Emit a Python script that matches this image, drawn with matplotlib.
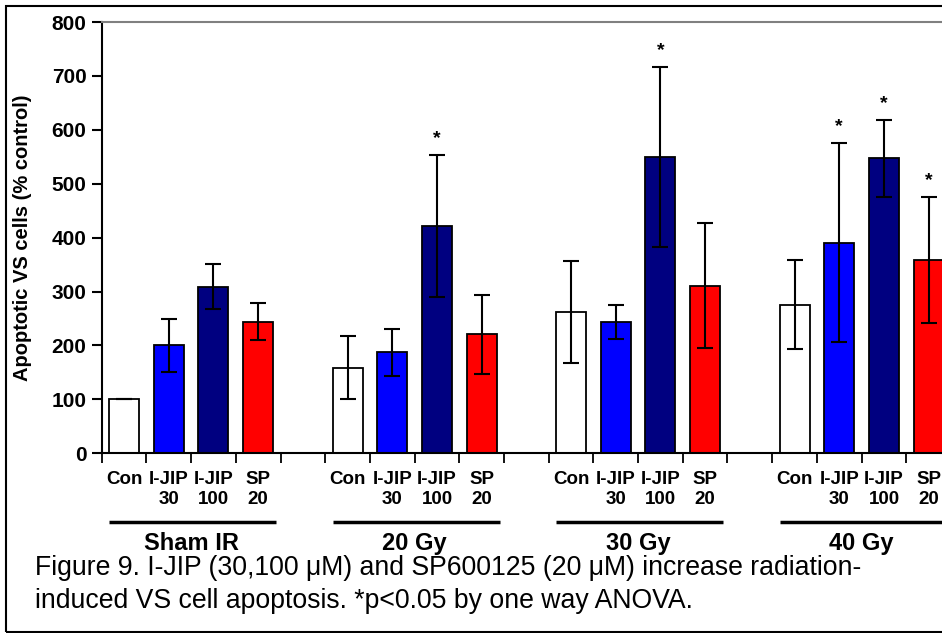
import matplotlib
matplotlib.use("Agg")
import matplotlib.pyplot as plt
import matplotlib.transforms as mtransforms
from matplotlib.patches import Rectangle

plt.rcParams['font.family'] = ['Liberation Sans', 'DejaVu Sans']

groups = ["Sham IR", "20 Gy", "30 Gy", "40 Gy"]
treatments = ["Con", "I-JIP\n30", "I-JIP\n100", "SP\n20"]
colors = ["#FFFFFF", "#0000FF", "#000080", "#FF0000"]

sham_means = [100, 200, 309, 244]
sham_errs = [0, 50, 42, 34]
gy20_means = [159, 187, 421, 221]
gy20_errs = [59, 44, 132, 73]
gy30_means = [262, 244, 550, 311]
gy30_errs = [94, 32, 167, 116]
gy40_means = [276, 391, 547, 358]
gy40_errs = [82, 184, 71, 117]
signif = [[False, False, False, False],
          [False, False, True, False],
          [False, False, True, False],
          [False, True, True, True]]

means = [sham_means, gy20_means, gy30_means, gy40_means]
errs = [sham_errs, gy20_errs, gy30_errs, gy40_errs]

W, H = 942, 633
fig = plt.figure(figsize=(W / 100, H / 100), dpi=100)

slot = 44.7
ax_left = 101.7
ax_bottom = 453.3
ax_top = 22.0
ax = fig.add_axes([ax_left / W, (H - ax_bottom) / H, 20 * slot / W, (ax_bottom - ax_top) / H])

positions = []
labels = []
for g in range(4):
    for j in range(4):
        x = 5 * g + j
        positions.append(x)
        labels.append(treatments[j])
        ax.bar(x, means[g][j], width=0.67, color=colors[j], edgecolor='black',
               linewidth=1.3, zorder=2)
        ax.errorbar(x, means[g][j], yerr=errs[g][j], fmt='none', ecolor='black',
                    elinewidth=1.5, capsize=5.5, capthick=1.5, zorder=3)
        if signif[g][j]:
            ax.annotate('*', xy=(x, means[g][j] + errs[g][j]), xytext=(0, 12),
                        textcoords='offset points', ha='center', va='center',
                        fontsize=14, fontweight='bold')

ax.set_xlim(-0.5, 19.5)
ax.set_ylim(0, 800)
ax.set_yticks(range(0, 801, 100))
ax.tick_params(axis='y', labelsize=15, length=7, width=1.5, direction='out', pad=4)
for t in ax.get_yticklabels():
    t.set_fontweight('bold')

ax.set_xticks([k - 0.5 for k in range(21)])
ax.set_xticklabels([])
ax.tick_params(axis='x', which='major', length=7, width=1.3, direction='out')
ax.set_xticks(positions, minor=True)
ax.set_xticklabels(labels, minor=True, fontsize=13.5, fontweight='bold', linespacing=1.2)
ax.tick_params(axis='x', which='minor', length=0, pad=13)

ax.spines['top'].set_color('#808080')
ax.spines['top'].set_linewidth(1.5)
ax.spines['left'].set_linewidth(1.5)
ax.spines['bottom'].set_linewidth(1.5)
ax.spines['right'].set_visible(False)

ax.set_ylabel("Apoptotic VS cells (% control)", fontsize=14.5, fontweight='bold', labelpad=14)

trans = mtransforms.blended_transform_factory(ax.transData, ax.transAxes)
for g, name in enumerate(groups):
    gs = 5 * g
    ax.plot([gs - 0.33, gs + 3.4], [-0.159, -0.159], transform=trans, color='black',
            linewidth=2.5, clip_on=False, solid_capstyle='butt')
    ax.text(gs + 1.5, -0.21, name, transform=trans, ha='center', va='center',
            fontsize=17, fontweight='bold')

fig.text(35 / W, 1 - 575 / H,
         "Figure 9. I-JIP (30,100 \u03bcM) and SP600125 (20 \u03bcM) increase radiation-",
         fontsize=19.2, va='baseline', ha='left')
fig.text(35 / W, 1 - 608 / H,
         "induced VS cell apoptosis. *p<0.05 by one way ANOVA.",
         fontsize=19.2, va='baseline', ha='left')

fig.patches.append(Rectangle((6 / W, 1.5 / H), 1.2, 1 - 7.5 / H, transform=fig.transFigure,
                             fill=False, edgecolor='black', linewidth=1.5, clip_on=False))

fig.savefig("out.png", dpi=100)
